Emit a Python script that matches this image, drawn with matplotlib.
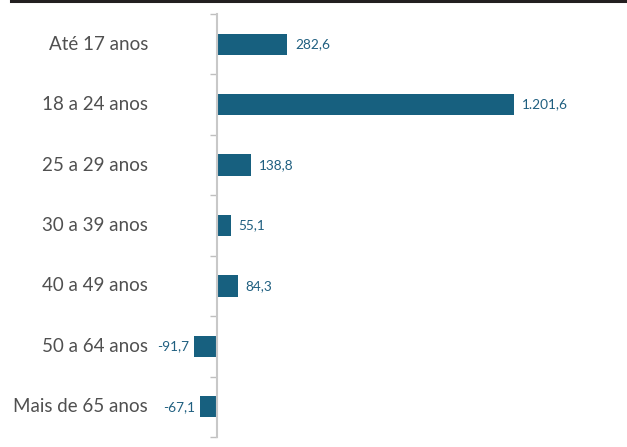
import numpy as np
import matplotlib
matplotlib.use("Agg")
from matplotlib import pyplot as plt
from matplotlib.lines import Line2D

categorias = ["Até 17 anos", "18 a 24 anos", "25 a 29 anos", "30 a 39 anos",
              "40 a 49 anos", "50 a 64 anos", "Mais de 65 anos"]
valores = [282.6, 1201.6, 138.8, 55.1, 84.3, -91.7, -67.1]
rotulos = ["282,6", "1.201,6", "138,8", "55,1", "84,3", "-91,7", "-67,1"]

cor_barra = "#17607f"
plt.rcParams['font.family'] = ['Lato', 'DejaVu Sans']

W, H = 627, 447
fig = plt.figure(figsize=(W / 100, H / 100), dpi=100)
# axes placed in pixels: left 150, right 600, top 14, bottom 437
ax = fig.add_axes([150 / W, (H - 437) / H, 450 / W, 423 / H])

px = 297 / 1201.6  # pixels per unit
ax.set_xlim(-(217 - 150) / px, (600 - 217) / px)
ax.set_ylim(len(categorias) - 0.5, -0.5)

y = np.arange(len(categorias))
ax.barh(y, valores, height=0.35, color=cor_barra)

for yi, v, r, c in zip(y, valores, rotulos, categorias):
    if v >= 0:
        ax.text(v + 8 / px, yi, r, va='center', ha='left', fontsize=9.8, color="#1f5f80")
    else:
        ax.text(v - 5 / px, yi, r, va='center', ha='right', fontsize=9.8, color="#1f5f80")
    ax.text(-2 / 450, yi, c, transform=ax.get_yaxis_transform(),
            va='center', ha='right', fontsize=13.5, color="#505050")

for s in ['top', 'right', 'bottom']:
    ax.spines[s].set_visible(False)
ax.spines['left'].set_position(('data', 0))
ax.spines['left'].set_color("#c8c8c8")
ax.spines['left'].set_linewidth(1.5)
ax.set_xticks([])
ax.set_yticks(np.arange(-0.5, len(categorias), 1.0))
ax.set_yticklabels([])
ax.tick_params(axis='y', length=5, width=1, color="#bfbfbf", direction='out')

# linha preta no topo
fig.add_artist(Line2D([11 / W, 1], [1 - 1.2 / H, 1 - 1.2 / H], color="#231f20", linewidth=2.2))

fig.savefig("out.png", dpi=100)
